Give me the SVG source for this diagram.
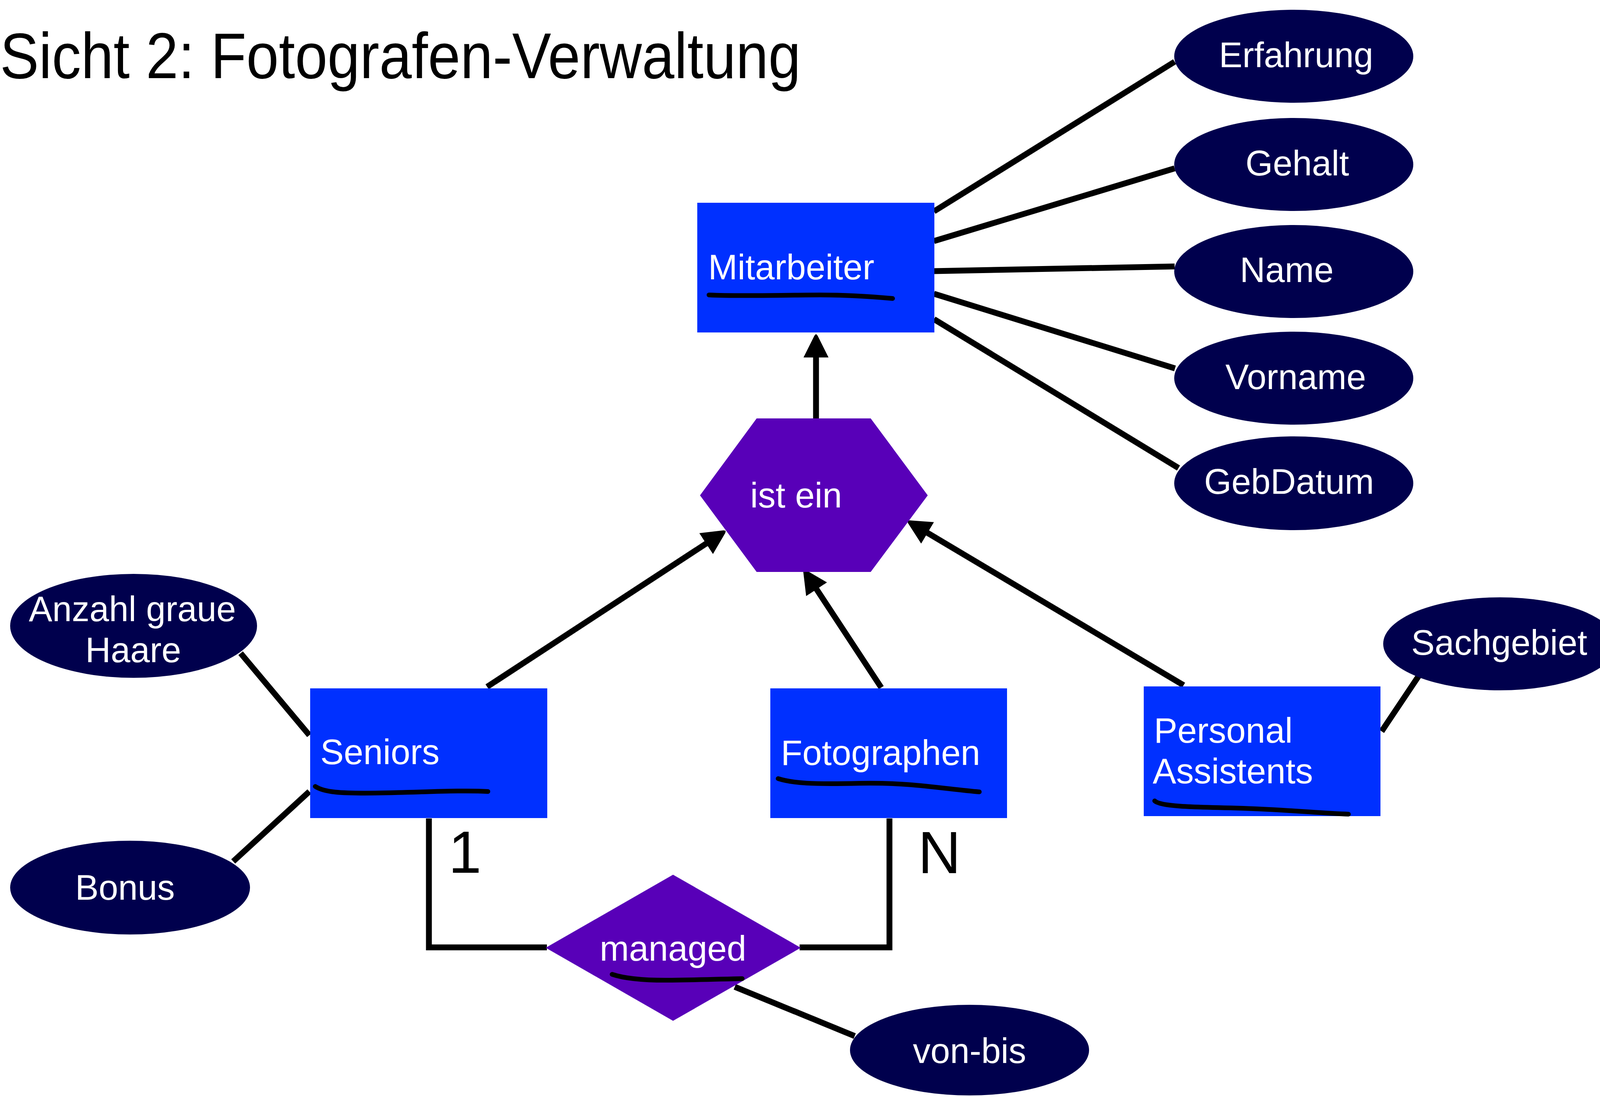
<svg xmlns="http://www.w3.org/2000/svg" width="4354" height="2808" viewBox="0 0 4354 2808">
<style>
.lbl{font-family:"Liberation Sans",Arial,sans-serif;font-size:90px;fill:#ffffff}
.ent{fill:#0030ff}
.rel{fill:#5800b8}
.att{fill:#00004d}
.con{stroke:#000;stroke-width:15;fill:none}
.ul{stroke:#000;stroke-width:12;fill:none;stroke-linecap:round}
.card{font-family:"Liberation Sans",Arial,sans-serif;font-size:152px;fill:#000}
</style>
<defs>
<marker id="arr" markerUnits="userSpaceOnUse" viewBox="0 0 60 64" refX="10" refY="32" markerWidth="60" markerHeight="64" orient="auto">
<path d="M0,0 L56,28 L60,32 L56,36 L0,64 z" fill="#000"/>
</marker>
</defs>
<rect width="4354" height="2808" fill="#fff"/>
<text x="0" y="200" font-family="Liberation Sans, Arial, sans-serif" font-size="166" fill="#000" textLength="2050" lengthAdjust="spacingAndGlyphs">Sicht 2: Fotografen-Verwaltung</text>
<g id="connectors">
<line class="con" x1="2391" y1="541" x2="3007" y2="158"/>
<line class="con" x1="2391" y1="617" x2="3007" y2="431"/>
<line class="con" x1="2391" y1="694" x2="3007" y2="682"/>
<line class="con" x1="2391" y1="752" x2="3008" y2="943"/>
<line class="con" x1="2391" y1="817" x2="3017" y2="1198"/>
<line class="con" x1="2089" y1="1071" x2="2089" y2="905" marker-end="url(#arr)"/>
<line class="con" x1="1247" y1="1758" x2="1816" y2="1386" marker-end="url(#arr)"/>
<line class="con" x1="2256" y1="1760" x2="2085" y2="1500" marker-end="url(#arr)"/>
<line class="con" x1="3030" y1="1754" x2="2366" y2="1359" marker-end="url(#arr)"/>
<line class="con" x1="616" y1="1672" x2="792" y2="1882"/>
<line class="con" x1="597" y1="2205" x2="792" y2="2026"/>
<line class="con" x1="3537" y1="1872" x2="3632" y2="1730"/>
<polyline class="con" points="1098,2095 1098,2425 1400,2425"/>
<polyline class="con" points="2047,2425 2277,2425 2277,2095"/>
<line class="con" x1="1881" y1="2526" x2="2188" y2="2652"/>
</g>
<g id="cardinalities">
<text class="card" x="1148" y="2234">1</text>
<text class="card" x="2350" y="2235">N</text>
</g>
<g id="mitarbeiter">
<rect class="ent" x="1785" y="519" width="607" height="332"/>
<text class="lbl" x="1813" y="715">Mitarbeiter</text>
<path class="ul" d="M1815,755 C1900,759 2000,755 2100,755 C2180,755 2240,760 2285,764"/>
</g>
<g id="isa">
<polygon class="rel" points="1937,1071 2229,1071 2375,1268 2229,1464 1937,1464 1792,1268"/>
<text class="lbl" x="2038" y="1299" text-anchor="middle">ist ein</text>
</g>
<g id="seniors">
<rect class="ent" x="794" y="1762" width="607" height="332"/>
<text class="lbl" x="820" y="1956">Seniors</text>
<path class="ul" d="M807,2013 C830,2028 870,2031 960,2030 C1080,2028 1180,2022 1249,2026"/>
</g>
<g id="fotographen">
<rect class="ent" x="1972" y="1762" width="606" height="332"/>
<text class="lbl" x="1999" y="1958">Fotographen</text>
<path class="ul" d="M1992,1993 C2030,2005 2080,2008 2200,2005 C2330,2002 2420,2020 2507,2027"/>
</g>
<g id="personal-assistents">
<rect class="ent" x="2928" y="1757" width="606" height="332"/>
<text class="lbl" x="2954" y="1901">Personal</text>
<text class="lbl" x="2951" y="2005">Assistents</text>
<path class="ul" d="M2956,2050 C2970,2064 3050,2066 3150,2068 C3280,2071 3380,2082 3452,2084"/>
</g>
<g id="managed">
<polygon class="rel" points="1723,2239 2050,2426 1723,2613 1397,2426"/>
<text class="lbl" x="1723" y="2459" text-anchor="middle">managed</text>
<path class="ul" d="M1567,2494 C1600,2505 1650,2510 1720,2509 C1800,2508 1850,2506 1900,2505"/>
</g>
<g id="erfahrung">
<ellipse class="att" cx="3312" cy="144" rx="306" ry="119"/>
<text class="lbl" x="3318" y="172" text-anchor="middle">Erfahrung</text>
</g>
<g id="gehalt">
<ellipse class="att" cx="3312" cy="421" rx="306" ry="119"/>
<text class="lbl" x="3321" y="449" text-anchor="middle">Gehalt</text>
</g>
<g id="name">
<ellipse class="att" cx="3312" cy="695" rx="306" ry="119"/>
<text class="lbl" x="3294" y="722" text-anchor="middle">Name</text>
</g>
<g id="vorname">
<ellipse class="att" cx="3312" cy="968" rx="306" ry="119"/>
<text class="lbl" x="3317" y="996" text-anchor="middle">Vorname</text>
</g>
<g id="gebdatum">
<ellipse class="att" cx="3312" cy="1237" rx="306" ry="120"/>
<text class="lbl" x="3300" y="1264" text-anchor="middle">GebDatum</text>
</g>
<g id="anzahl-graue-haare">
<ellipse class="att" cx="342" cy="1602" rx="316" ry="133"/>
<text class="lbl" x="339" y="1590" text-anchor="middle">Anzahl graue</text>
<text class="lbl" x="341" y="1695" text-anchor="middle">Haare</text>
</g>
<g id="bonus">
<ellipse class="att" cx="333" cy="2272" rx="307" ry="120"/>
<text class="lbl" x="320" y="2303" text-anchor="middle">Bonus</text>
</g>
<g id="sachgebiet">
<ellipse class="att" cx="3840" cy="1648" rx="299" ry="119"/>
<text class="lbl" x="3838" y="1676" text-anchor="middle">Sachgebiet</text>
</g>
<g id="von-bis">
<ellipse class="att" cx="2482" cy="2688" rx="306" ry="116"/>
<text class="lbl" x="2482" y="2721" text-anchor="middle">von-bis</text>
</g>
</svg>
